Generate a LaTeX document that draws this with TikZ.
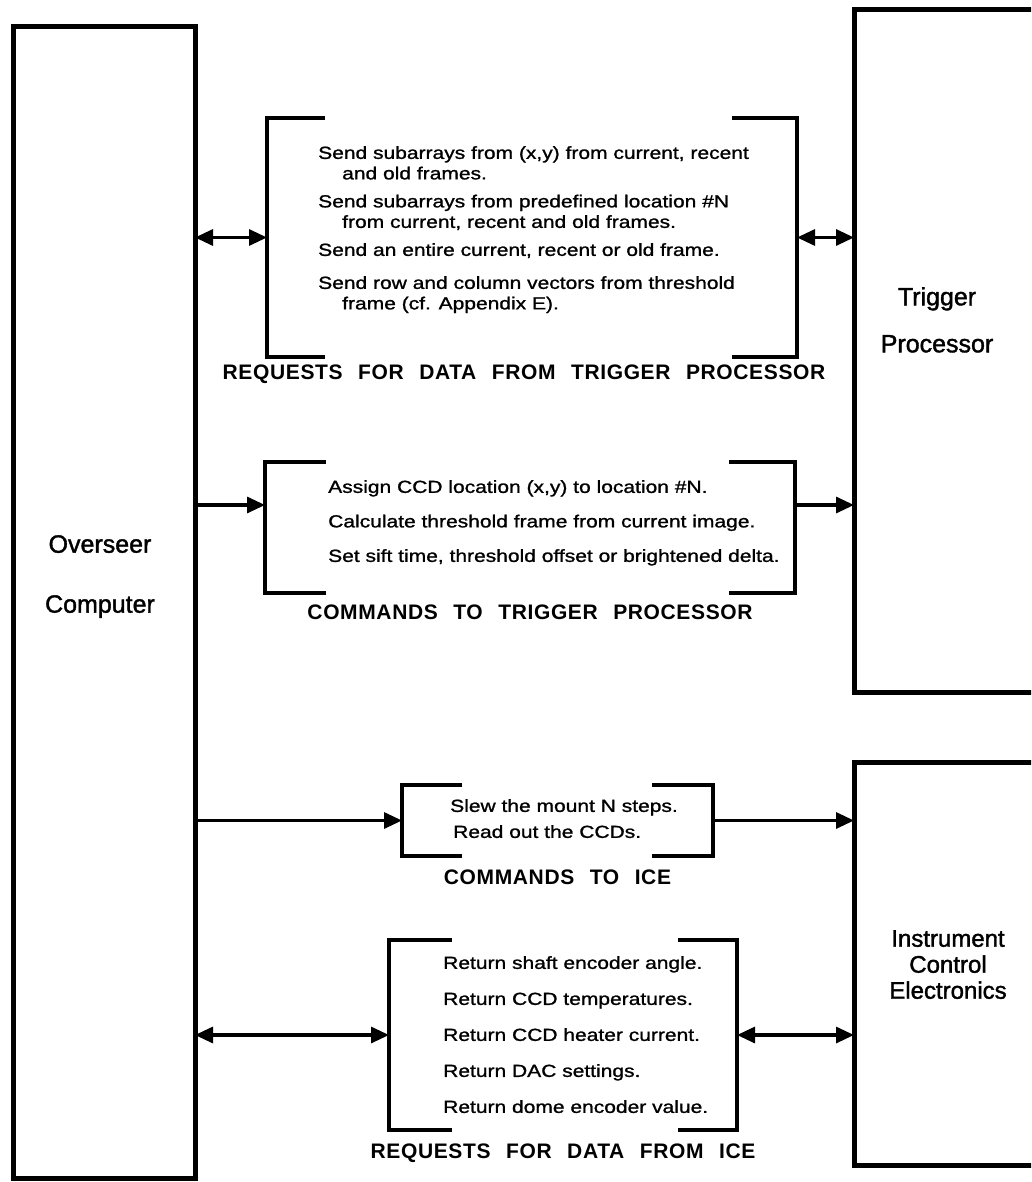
\documentclass[tikz,border=0pt]{standalone}
\usepackage{fontspec}
\setmainfont{Liberation Sans}[FakeBold=1.5]
\newfontfamily\msgfont{Liberation Sans}[FakeStretch=1.2,FakeBold=1.2]
\newfontfamily\tagfont{Liberation Sans}[LetterSpace=3,WordSpace=2.4]
\usetikzlibrary{arrows.meta,positioning,calc}

\begin{document}
\begin{tikzpicture}[x=1pt,y=-1pt,
    bigtip/.tip={Triangle[length=18pt,width=16pt]},
    unit/.style={draw,line width=5pt,anchor=north west,inner sep=0pt,outer sep=0pt},
    unitname/.style={font=\fontsize{25}{30}\selectfont,align=center,inner sep=0pt,anchor=north},
    msgset/.style={inner sep=0pt,outer sep=0pt,anchor=north west},
    msgs/.style={font=\msgfont\fontsize{17.5}{20.5}\selectfont,align=left,inner sep=0pt,anchor=north west},
    tag/.style={font=\tagfont\bfseries\fontsize{21}{24}\selectfont,inner sep=0pt},
    brk/.style={line width=4.8pt},
    arr/.style={line width=3.2pt,-bigtip},
    dbl/.style={line width=3.2pt,bigtip-bigtip}
  ]
    \useasboundingbox (0,0) rectangle (1031,1182);
    \fill[white] (0,0) rectangle (1031,1182);
    \clip (0,0) rectangle (1031,1182);
    \node[unit,minimum width=182pt,minimum height=1151pt] (oc) at (13,27) {};
    \node[unit,minimum width=400pt,minimum height=682pt] (tp) at (854,10) {};
    \node[unit,minimum width=400pt,minimum height=403pt] (ice) at (854,762) {};
    \node[unitname] (ocname) at (100,535) {Overseer\\[30pt]Computer};
    \node[unitname] (tpname) at (937,287) {Trigger\\[17pt]Processor};
    \node[unitname,font=\fontsize{24}{26}\selectfont] (icename) at (948,930) {Instrument\\Control\\Electronics};
    \node[msgset,minimum width=530pt,minimum height=239pt] (reqtp) at (267,118) {};
    \node[msgset,minimum width=530pt,minimum height=131pt] (cmdtp) at (265,462) {};
    \node[msgset,minimum width=311pt,minimum height=71pt] (cmdice) at (402,785) {};
    \node[msgset,minimum width=348pt,minimum height=190pt] (reqice) at (389,940) {};
    \foreach \grp/\la/\ra in {reqtp/58/65,cmdtp/61/66,cmdice/60/61,reqice/63/59}{
      \draw[brk] ([xshift=\la pt]\grp.north west) -- (\grp.north west) -- (\grp.south west) -- ([xshift=\la pt]\grp.south west);
      \draw[brk] ([xshift=-\ra pt]\grp.north east) -- (\grp.north east) -- (\grp.south east) -- ([xshift=-\ra pt]\grp.south east);
    }
    \node[msgs] (reqtptxt) at (318,146) {Send subarrays from (x,y) from current, recent\\\hspace*{24pt}and old frames.\\[7.5pt]Send subarrays from predefined location \#N\\\hspace*{24pt}from current, recent and old frames.\\[7.5pt]Send an entire current, recent or old frame.\\[12.5pt]Send row and column vectors from threshold\\\hspace*{24pt}frame (cf. Appendix E).};
    \node[msgs] (cmdtptxt) at (328,480) {Assign CCD location (x,y) to location \#N.\\[14pt]Calculate threshold frame from current image.\\[14pt]Set sift time, threshold offset or brightened delta.};
    \node[msgs] (cmdicetxt) at (450,799) {Slew the mount N steps.\\[5.5pt]\hspace*{3pt}Read out the CCDs.};
    \node[msgs] (reqicetxt) at (443,956) {Return shaft encoder angle.\\[15.5pt]Return CCD temperatures.\\[15.5pt]Return CCD heater current.\\[15.5pt]Return DAC settings.\\[15.5pt]Return dome encoder value.};
    \node[tag,below=8pt of reqtp,xshift=-8pt] (reqtptag) {REQUESTS FOR DATA FROM TRIGGER PROCESSOR};
    \node[tag,below=12pt of cmdtp] (cmdtptag) {COMMANDS TO TRIGGER PROCESSOR};
    \node[tag,below=14pt of cmdice] (cmdicetag) {COMMANDS TO ICE};
    \node[tag,below=14pt of reqice] (reqicetag) {REQUESTS FOR DATA FROM ICE};
    \coordinate (cmdtpin) at ($(cmdtp.west)+(0,-22.5)$);
    \coordinate (cmdtpout) at ($(cmdtp.east)+(0,-22.5)$);
    \draw[dbl] (oc.east |- reqtp.west) -- (reqtp.west);
    \draw[dbl] (reqtp.east) -- (tp.west |- reqtp.east);
    \draw[arr] (oc.east |- cmdtpin) -- (cmdtpin);
    \draw[arr] (cmdtpout) -- (tp.west |- cmdtpout);
    \draw[arr] (oc.east |- cmdice.west) -- (cmdice.west);
    \draw[arr] (cmdice.east) -- (ice.west |- cmdice.east);
    \draw[dbl] (oc.east |- reqice.west) -- (reqice.west);
    \draw[dbl] (reqice.east) -- (ice.west |- reqice.east);
\end{tikzpicture}
\end{document}
